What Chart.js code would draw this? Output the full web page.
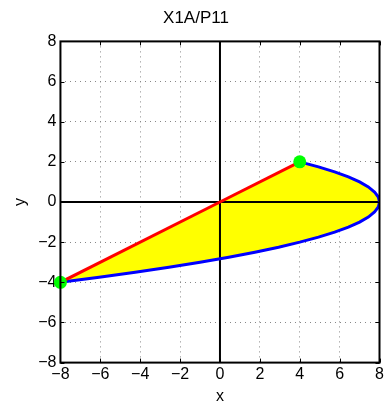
<!DOCTYPE html>
<html>
<head>
<meta charset="utf-8">
<script src="https://cdn.jsdelivr.net/npm/chart.js@4"></script>
<style>
  body { margin: 0; background: #fff; }
  canvas { display: block; }
</style>
</head>
<body>
<canvas id="chart" width="386" height="406"></canvas>
<script>
const curveY = [2, 1.75, 1.5, 1.25, 1, 0.75, 0.5, 0.25, 0, -0.25, -0.5, -0.75, -1, -1.25, -1.5, -1.75, -2, -2.25, -2.5, -2.75, -3, -3.25, -3.5, -3.75, -4];
const curveX = [4, 4.94, 5.75, 6.44, 7, 7.44, 7.75, 7.94, 8, 7.94, 7.75, 7.44, 7, 6.44, 5.75, 4.94, 4, 2.94, 1.75, 0.44, -1, -2.56, -4.25, -6.06, -8];

// red straight line
const lineX = [-8, 0, 4];
const lineY = [-4, 0, 2];

// green end points
const markX = [4, -8];
const markY = [2, -4];

const xTicks = [-8, -6, -4, -2, 0, 2, 4, 6, 8];
const yTicks = [-8, -6, -4, -2, 0, 2, 4, 6, 8];

const toPts = (xs, ys) => xs.map((x, i) => ({ x: x, y: ys[i] }));

// closed region: curve then back along the line
const fillPts = toPts(curveX, curveY).concat(toPts(lineX.slice().reverse(), lineY.slice().reverse()));

const font = { family: "'Liberation Sans', Arial, sans-serif", size: 16, weight: "normal" };
const titleFont = { family: "'Liberation Sans', Arial, sans-serif", size: 17, weight: "normal" };
const minus = v => String(v).replace("-", "\u2212");

// box round the plot area, with small inward ticks
const frame = {
    id: "frame",
    afterDatasetsDraw(chart) {
        const a = chart.chartArea;
        const ctx = chart.ctx;
        const xs = chart.scales.x, ys = chart.scales.y;
        ctx.save();
        ctx.strokeStyle = "#000";
        ctx.lineWidth = 1;
        ctx.beginPath();
        xTicks.forEach(v => {
            const px = Math.round(xs.getPixelForValue(v)) + 0.5;
            ctx.moveTo(px, a.bottom); ctx.lineTo(px, a.bottom - 4);
            ctx.moveTo(px, a.top); ctx.lineTo(px, a.top + 4);
        });
        yTicks.forEach(v => {
            const py = Math.round(ys.getPixelForValue(v)) + 0.5;
            ctx.moveTo(a.left, py); ctx.lineTo(a.left + 4, py);
            ctx.moveTo(a.right, py); ctx.lineTo(a.right - 4, py);
        });
        ctx.stroke();
        ctx.lineWidth = 2;
        ctx.strokeRect(a.left, a.top, a.right - a.left, a.bottom - a.top);
        ctx.restore();
    }
};

new Chart(document.getElementById("chart"), {
    type: "scatter",
    data: {
        datasets: [
            {
                data: toPts(markX, markY),
                pointRadius: 6.5,
                pointBackgroundColor: "#00ff00",
                pointBorderWidth: 0,
                clip: false,
                order: 0
            },
            {
                data: toPts(lineX, lineY),
                showLine: true,
                borderColor: "#ff0000",
                borderWidth: 3,
                pointRadius: 0,
                order: 1
            },
            {
                data: toPts(curveX, curveY),
                showLine: true,
                borderColor: "#0000ff",
                borderWidth: 3,
                pointRadius: 0,
                order: 1
            },
            {
                data: [{ x: 0, y: -8 }, { x: 0, y: 8 }],
                showLine: true,
                borderColor: "#000",
                borderWidth: 2,
                pointRadius: 0,
                order: 2
            },
            {
                data: [{ x: -8, y: 0 }, { x: 8, y: 0 }],
                showLine: true,
                borderColor: "#000",
                borderWidth: 2,
                pointRadius: 0,
                order: 2
            },
            {
                data: fillPts,
                showLine: true,
                borderWidth: 0,
                borderColor: "rgba(0,0,0,0)",
                backgroundColor: "#ffff00",
                fill: "shape",
                pointRadius: 0,
                order: 3
            }
        ]
    },
    options: {
        responsive: false,
        animation: false,
        layout: { padding: { left: 11, right: 5, top: 2, bottom: 0 } },
        plugins: {
            legend: { display: false },
            tooltip: { enabled: false },
            title: {
                display: true,
                text: "X1A/P11",
                color: "#000",
                font: titleFont,
                padding: { top: 6, bottom: 13 }
            }
        },
        scales: {
            x: {
                min: -8,
                max: 8,
                afterBuildTicks: s => { s.ticks = xTicks.map(v => ({ value: v })); },
                ticks: { color: "#000", font: font, callback: minus, padding: 2, maxRotation: 0 },
                grid: { color: "#888", drawTicks: false },
                border: { display: false, dash: [1, 4] },
                title: { display: true, text: "x", color: "#000", font: font, padding: { top: 1, bottom: 0 } }
            },
            y: {
                min: -8,
                max: 8,
                afterBuildTicks: s => { s.ticks = yTicks.map(v => ({ value: v })); },
                ticks: { color: "#000", font: font, callback: minus, padding: 4 },
                grid: { color: "#888", drawTicks: false },
                border: { display: false, dash: [1, 4] },
                title: { display: true, text: "y", color: "#000", font: font, padding: { top: 0, bottom: 4 } }
            }
        }
    },
    plugins: [frame]
});
</script>
</body>
</html>
